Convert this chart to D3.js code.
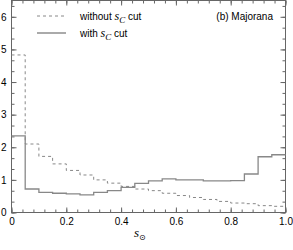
<!DOCTYPE html>
<html>
<head>
  <meta charset="utf-8">
  <title></title>
  <style>
    body { margin: 0; background: #fff; }
    svg { display: block; font-family: "Liberation Sans", Arial, sans-serif; }
  </style>
</head>
<body>
  <svg width="293" height="250"></svg>

  <script src="https://d3js.org/d3.v7.min.js"></script>
  <script>

  // bin left edges (width 0.05)
  var binEdges = [0, 0.05, 0.1, 0.15, 0.2, 0.25, 0.3, 0.35, 0.4, 0.45,
                  0.5, 0.55, 0.6, 0.65, 0.7, 0.75, 0.8, 0.85, 0.9, 0.95];
  var withoutCut = [4.83, 2.1, 1.72, 1.49, 1.29, 1.15, 1.0, 0.9, 0.8, 0.72,
                    0.67, 0.59, 0.52, 0.46, 0.40, 0.34, 0.29, 0.27, 0.21, 0.19];
  var withCut = [2.35, 0.72, 0.62, 0.59, 0.57, 0.54, 0.62, 0.67, 0.77, 0.89,
                 0.97, 1.03, 1.0, 1.0, 0.97, 0.97, 0.98, 1.18, 1.71, 1.77];
  var xTicks = [0, 0.2, 0.4, 0.6, 0.8, 1.0];
  var yTicks = [0, 1, 2, 3, 4, 5, 6];

  var svg = d3.select("svg"),
      mLeft = 11.5, mRight = 285.5, mTop = 0.5, mBottom = 212.5;

  var x = d3.scaleLinear().domain([0, 1]).range([mLeft, mRight]);
  var y = d3.scaleLinear().domain([0, 6.5]).range([mBottom, mTop]);

  var axisColor = "#666";
  var xMinor = d3.range(0, 1.0001, 0.04), yMinor = d3.range(0, 6.5, 1 / 3);

  function styleAxis(g) {
    g.select(".domain").remove();
    g.selectAll("line").attr("stroke", axisColor);
    g.selectAll("text").attr("font-size", 10).attr("fill", "#000");
  }

  // minor ticks
  svg.append("g").attr("transform", "translate(0," + mBottom + ")")
      .call(d3.axisBottom(x).tickValues(xMinor).tickSize(-3).tickFormat("")).call(styleAxis);
  svg.append("g").attr("transform", "translate(0," + mTop + ")")
      .call(d3.axisTop(x).tickValues(xMinor).tickSize(-3).tickFormat("")).call(styleAxis);
  svg.append("g").attr("transform", "translate(" + mLeft + ",0)")
      .call(d3.axisLeft(y).tickValues(yMinor).tickSize(-3).tickFormat("")).call(styleAxis);
  svg.append("g").attr("transform", "translate(" + mRight + ",0)")
      .call(d3.axisRight(y).tickValues(yMinor).tickSize(-3).tickFormat("")).call(styleAxis);

  // major ticks
  svg.append("g").attr("transform", "translate(0," + mBottom + ")")
      .call(d3.axisBottom(x).tickValues(xTicks).tickSize(-5).tickPadding(5)
        .tickFormat(function(d) { return d === 0 ? "0" : d.toFixed(1); }))
      .call(styleAxis);
  svg.append("g").attr("transform", "translate(0," + mTop + ")")
      .call(d3.axisTop(x).tickValues(xTicks).tickSize(-5).tickFormat("")).call(styleAxis);
  svg.append("g").attr("transform", "translate(" + mLeft + ",0)")
      .call(d3.axisLeft(y).tickValues(yTicks).tickSize(-5).tickPadding(5).tickFormat(d3.format("d")))
      .call(styleAxis);
  svg.append("g").attr("transform", "translate(" + mRight + ",0)")
      .call(d3.axisRight(y).tickValues(yTicks).tickSize(-5).tickFormat("")).call(styleAxis);

  svg.append("rect")
      .attr("x", mLeft).attr("y", mTop)
      .attr("width", mRight - mLeft).attr("height", mBottom - mTop)
      .attr("fill", "none").attr("stroke", axisColor).attr("stroke-width", 1);

  // histograms
  function steps(vals) {
    var pts = binEdges.map(function(e, i) { return [e, vals[i]]; });
    pts.push([1.0, vals[vals.length - 1]]);
    return pts;
  }
  var line = d3.line()
      .x(function(d) { return x(d[0]); })
      .y(function(d) { return y(d[1]); })
      .curve(d3.curveStepAfter);

  svg.append("path").datum(steps(withoutCut))
      .attr("d", line).attr("fill", "none")
      .attr("stroke", "#888").attr("stroke-width", 1)
      .attr("stroke-dasharray", "3,3");
  svg.append("path").datum(steps(withCut))
      .attr("d", line).attr("fill", "none")
      .attr("stroke", "#888").attr("stroke-width", 1.3);

  // legend
  var legend = [
    {label: "without ", dash: "3,3", color: "#888", w: 1, y: 16},
    {label: "with ", dash: null, color: "#aaa", w: 2, y: 33}
  ];
  legend.forEach(function(d) {
    svg.append("line")
        .attr("x1", 37).attr("x2", 66).attr("y1", d.y).attr("y2", d.y)
        .attr("stroke", d.color).attr("stroke-width", d.w)
        .attr("stroke-dasharray", d.dash);
    var t = svg.append("text").attr("x", 80).attr("y", d.y + 3.5).attr("font-size", 10);
    t.append("tspan").text(d.label);
    t.append("tspan").attr("font-family", "Liberation Serif, serif").attr("font-style", "italic")
        .attr("font-size", 12).text("s");
    t.append("tspan").attr("font-family", "Liberation Serif, serif").attr("font-style", "italic")
        .attr("font-size", 9).attr("dy", 3).text("C");
    t.append("tspan").attr("dy", -3).text(" cut");
  });

  svg.append("text").attr("x", 273).attr("y", 19.5).attr("text-anchor", "end")
      .attr("font-size", 10).text("(b) Majorana");

  // x label
  var xl = svg.append("text").attr("x", 134).attr("y", 237);
  xl.append("tspan").attr("font-family", "Liberation Serif, serif").attr("font-style", "italic")
      .attr("font-size", 13).text("s");
  xl.append("tspan").attr("font-family", "DejaVu Sans, sans-serif").attr("font-size", 8)
      .attr("dy", 3).text("\u2299");

  </script>
</body>
</html>
